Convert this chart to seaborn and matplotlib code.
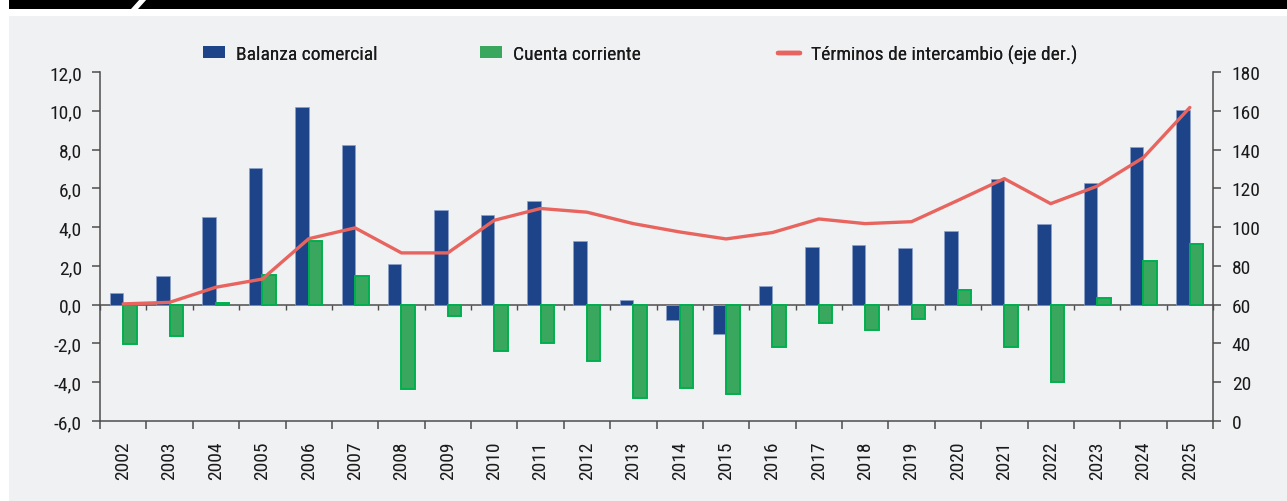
import numpy as np
import pandas as pd
import matplotlib
matplotlib.use("Agg")
import matplotlib.pyplot as plt
import seaborn as sns
from matplotlib import font_manager as fm
from matplotlib.patches import Rectangle, Polygon, Patch
from matplotlib.lines import Line2D
from matplotlib.ticker import FuncFormatter

# ---------------- data ----------------
years = list(range(2002, 2026))
balanza = [0.6, 1.5, 4.5, 7.05, 10.2, 8.25, 2.1, 4.9, 4.65, 5.35, 3.3, 0.25,
           -0.8, -1.5, 0.95, 3.0, 3.1, 2.9, 3.8, 6.5, 4.15, 6.25, 8.15, 10.05]
cuenta = [-2.05, -1.6, 0.1, 1.55, 3.3, 1.5, -4.35, -0.6, -2.4, -2.0, -2.9, -4.8,
          -4.3, -4.6, -2.2, -0.95, -1.3, -0.75, 0.75, -2.2, -4.0, 0.35, 2.25, 3.15]
terminos = [60.4, 61.2, 69.0, 73.2, 94.0, 99.6, 86.7, 86.7, 103.5, 109.6, 107.7, 101.8,
            97.5, 93.9, 97.2, 104.2, 101.8, 102.8, 113.8, 125.0, 112.1, 121.1, 135.9, 161.7]
serie_names = ["Balanza comercial", "Cuenta corriente", "Términos de intercambio (eje der.)"]
left_ticks = list(range(-6, 13, 2))
right_ticks = list(range(0, 181, 20))

# ---------------- style ----------------
BLUE = "#1D4489"
GREEN = "#3AA75E"
GREEN_EDGE = "#00B050"
RED = "#E8645F"
PANEL = "#F0F1F3"
SPINE = "#4d4d4d"
TEXT = "#1a1a1a"


def pick(cands):
    for c in cands:
        try:
            fm.findfont(fm.FontProperties(family=c), fallback_to_default=False)
            return c
        except Exception:
            pass
    return "DejaVu Sans"


sns.set_theme(style="ticks")
font = pick(["Liberation Sans Narrow", "Roboto Condensed", "Arial Narrow", "Liberation Sans"])
plt.rcParams["font.family"] = [font, "DejaVu Sans"]
plt.rcParams["text.color"] = TEXT
plt.rcParams["xtick.color"] = SPINE
plt.rcParams["ytick.color"] = SPINE
plt.rcParams["xtick.labelcolor"] = TEXT
plt.rcParams["ytick.labelcolor"] = TEXT
FS = 14

W, H = 1287, 502
fig = plt.figure(figsize=(W / 100, H / 100), dpi=100)
fig.patch.set_facecolor("white")

# decorations: panel + header bar
fig.patches.append(Rectangle((9 / W, 0), 1 - 9 / W, 1 - 17 / H, transform=fig.transFigure,
                             facecolor=PANEL, edgecolor="none", zorder=-10))
fig.patches.append(Rectangle((9 / W, 1 - 10 / H), 1 - 9 / W, 10 / H, transform=fig.transFigure,
                             facecolor="black", edgecolor="none", zorder=-9))
fig.patches.append(Polygon([(131 / W, 1 - 10 / H), (138 / W, 1 - 10 / H),
                            (147 / W, 1.0), (140 / W, 1.0)], closed=True,
                           transform=fig.transFigure, facecolor="white",
                           edgecolor="none", zorder=-8))

ax = fig.add_axes([100 / W, 1 - 422 / H, (1213 - 100) / W, (422 - 73) / H])
ax.set_facecolor("none")

df = pd.DataFrame({
    "Año": years * 2,
    "Valor": balanza + cuenta,
    "Serie": [serie_names[0]] * len(years) + [serie_names[1]] * len(years),
})
sns.barplot(data=df, x="Año", y="Valor", hue="Serie", native_scale=True,
            palette={serie_names[0]: BLUE, serie_names[1]: GREEN},
            width=0.58, saturation=1, errorbar=None, legend=False, ax=ax)

for bar in ax.containers[0]:
    bar.set_edgecolor("#8EA1C9")
    bar.set_linewidth(0.5)
for bar in ax.containers[1]:
    bar.set_edgecolor(GREEN_EDGE)
    bar.set_linewidth(1.4)

ax.set_xlim(years[0] - 0.5, years[-1] + 0.5)
ax.set_ylim(left_ticks[0], left_ticks[-1])
ax.set_yticks(left_ticks)
ax.yaxis.set_major_formatter(FuncFormatter(lambda v, p: f"{v:.1f}".replace(".", ",")))
ax.set_xticks(years)
ax.set_xticklabels([str(y) for y in years], rotation=90, fontsize=FS)
ax.set_xticks(np.arange(years[0] - 0.5, years[-1] + 1, 1), minor=True)
ax.tick_params(axis="x", which="major", length=0, pad=14)
ax.tick_params(axis="x", which="minor", length=5.5, width=1.1, direction="out", color=SPINE)
ax.tick_params(axis="y", length=5.5, width=1.1, pad=7.5, labelsize=FS, color=SPINE)
ax.set_xlabel("")
ax.set_ylabel("")
for s in ["top", "right"]:
    ax.spines[s].set_visible(False)
for s in ["left", "bottom"]:
    ax.spines[s].set_color(SPINE)
    ax.spines[s].set_linewidth(1.1)

# zero line with boundary ticks
sec = ax.secondary_xaxis((0 - left_ticks[0]) / (left_ticks[-1] - left_ticks[0]))
sec.set_xticks(np.arange(years[0] - 0.5, years[-1] + 1, 1))
sec.set_xticklabels([])
sec.tick_params(axis="x", length=3.5, width=1.0, direction="out", color=SPINE)
sec.spines["bottom"].set_color(SPINE)
sec.spines["bottom"].set_linewidth(1.1)

# right axis: terms of trade
ax2 = ax.twinx()
ax2.set_facecolor("none")
sns.lineplot(x=years, y=terminos, color=RED, linewidth=2.4, ax=ax2)
ax2.set_ylim(right_ticks[0], right_ticks[-1])
ax2.set_yticks(right_ticks)
ax2.tick_params(axis="y", length=5.5, width=1.1, pad=8, labelsize=FS, color=SPINE)
ax2.set_ylabel("")
for s in ["top", "left", "bottom"]:
    ax2.spines[s].set_visible(False)
ax2.spines["right"].set_color(SPINE)
ax2.spines["right"].set_linewidth(1.1)
ax2.set_xlim(years[0] - 0.5, years[-1] + 0.5)

# legend (three entries placed like the reference)
handles = [
    Patch(facecolor=BLUE, edgecolor="none"),
    Patch(facecolor=GREEN, edgecolor="none"),
    Line2D([], [], color=RED, linewidth=3.2, solid_capstyle="round"),
]
xs = [203, 480, 778]
for h, lab, x in zip(handles, serie_names, xs):
    leg = fig.legend([h], [lab], loc="center left", bbox_to_anchor=(x / W, 1 - 55 / H),
                     frameon=False, borderpad=0, borderaxespad=0, fontsize=FS,
                     handlelength=1.15, handleheight=0.6, handletextpad=0.55)
    fig.add_artist(leg)

fig.savefig("out.png", dpi=100, facecolor=fig.get_facecolor())
